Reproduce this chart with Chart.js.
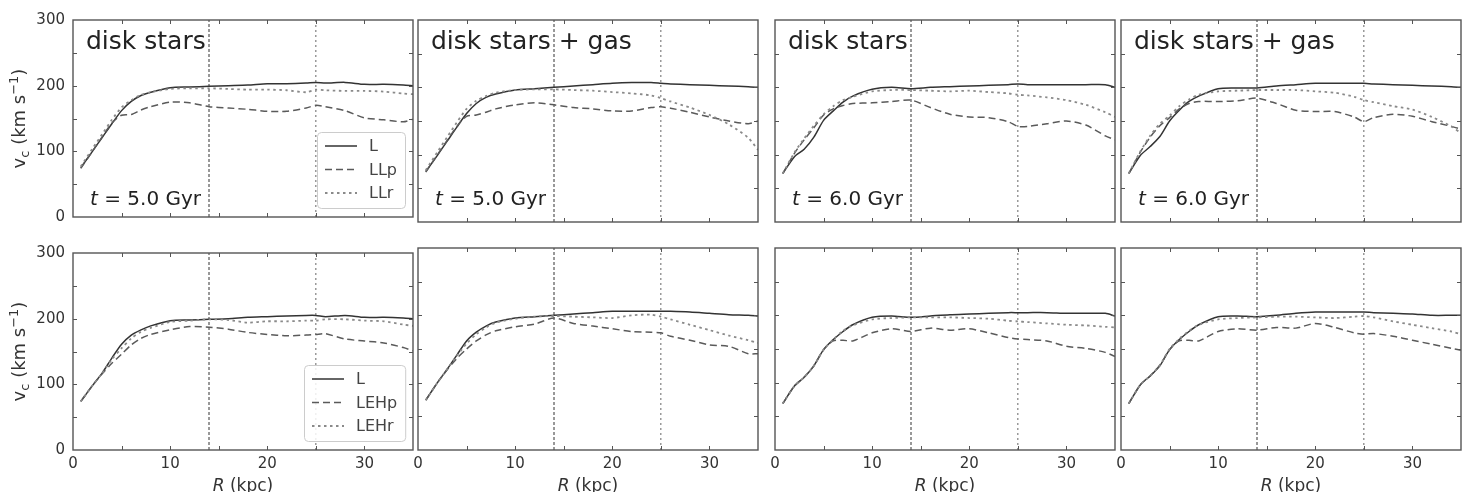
<!DOCTYPE html>
<html>
<head>
<meta charset="utf-8">
<title>Rotation curves</title>
<script src="https://cdn.jsdelivr.net/npm/chart.js@4.4.0/dist/chart.umd.min.js"></script>
<style>
  html, body { margin: 0; padding: 0; background: #fff; }
  body { width: 1469px; height: 492px; position: relative; overflow: hidden; }
</style>
</head>
<body>
<script>
// radius grid (kpc) shared by all curves
const R = [0.8, 2, 3, 4, 5, 6, 7, 8, 10, 12, 14, 16, 18, 20, 22, 24, 25, 26, 28, 30, 32, 34, 35];
const refR = [14, 25];
const xTickLabels = [0, 10, 20, 30];
const yTickLabels = [0, 100, 200, 300];

// top row: L / LLp / LLr
const A_L   = [75, 100, 121, 142, 162, 176, 185, 190, 197, 198, 199, 200, 201, 203, 203, 204, 205, 204, 205, 202, 202, 201, 200];
const A_LLp = [74, 100, 122, 143, 155, 156, 163, 168, 175, 174, 168, 166, 164, 161, 161, 166, 170, 168, 162, 151, 148, 145, 149];
const A_LLr = [77, 104, 126, 148, 167, 178, 186, 190, 195, 196, 196, 195, 194, 194, 193, 190, 194, 193, 192, 192, 191, 188, 187];

const B_L   = [75, 99, 120, 141, 161, 176, 185, 190, 196, 198, 200, 202, 204, 206, 207, 207, 206, 205, 204, 203, 202, 201, 200];
const B_LLp = [74, 100, 121, 142, 157, 159, 163, 168, 174, 177, 174, 170, 168, 165, 165, 170, 171, 169, 163, 156, 150, 146, 150];
const B_LLr = [77, 104, 126, 148, 168, 180, 187, 192, 196, 197, 197, 196, 195, 193, 191, 188, 184, 179, 170, 159, 145, 125, 107];

const C_L   = [72, 97, 108, 126, 151, 165, 178, 187, 197, 200, 198, 200, 201, 202, 203, 204, 205, 204, 204, 204, 204, 204, 200];
const C_LLp = [72, 102, 122, 140, 159, 168, 173, 176, 177, 179, 181, 170, 160, 156, 155, 149, 142, 142, 146, 150, 144, 128, 122];
const C_LLr = [72, 103, 124, 143, 160, 172, 181, 186, 194, 196, 196, 195, 194, 195, 193, 191, 189, 188, 185, 181, 174, 163, 156];

const D_L   = [72, 99, 112, 127, 150, 166, 179, 187, 198, 199, 199, 202, 204, 206, 206, 206, 206, 205, 204, 203, 202, 201, 200];
const D_LLp = [72, 104, 126, 143, 155, 168, 176, 179, 179, 180, 184, 176, 166, 164, 164, 156, 149, 155, 160, 157, 149, 142, 138];
const D_LLr = [72, 105, 128, 146, 158, 172, 182, 189, 194, 195, 196, 196, 196, 194, 192, 186, 181, 178, 172, 167, 156, 142, 132];

// bottom row: L / LEHp / LEHr
const E_L    = [74, 98, 117, 140, 161, 175, 183, 189, 197, 198, 199, 200, 202, 203, 204, 205, 205, 203, 205, 202, 202, 201, 200];
const E_LEHp = [74, 98, 116, 132, 146, 160, 170, 176, 183, 188, 187, 184, 179, 176, 174, 175, 176, 177, 169, 166, 163, 156, 151];
const E_LEHr = [74, 98, 117, 138, 155, 170, 180, 186, 195, 197, 199, 198, 194, 196, 196, 197, 197, 199, 199, 197, 196, 191, 189];

const F_L    = [74, 100, 120, 141, 162, 175, 184, 190, 196, 198, 200, 202, 204, 206, 206, 206, 206, 206, 205, 203, 201, 200, 199];
const F_LEHp = [74, 100, 119, 136, 150, 162, 171, 177, 183, 187, 196, 188, 184, 180, 176, 175, 174, 169, 163, 156, 154, 143, 143];
const F_LEHr = [74, 100, 120, 140, 158, 172, 182, 189, 195, 198, 199, 198, 197, 196, 200, 201, 198, 194, 186, 178, 170, 163, 159];

const G_L    = [69, 95, 108, 125, 149, 164, 176, 186, 197, 199, 197, 199, 201, 202, 203, 204, 204, 204, 204, 203, 203, 203, 199];
const G_LEHp = [69, 95, 108, 125, 149, 162, 163, 162, 174, 180, 176, 181, 178, 180, 174, 167, 165, 164, 162, 154, 151, 145, 139];
const G_LEHr = [69, 95, 108, 125, 149, 164, 177, 185, 194, 196, 197, 197, 197, 196, 195, 192, 191, 190, 188, 186, 185, 183, 182];

const H_L    = [69, 97, 110, 125, 149, 164, 176, 186, 198, 199, 198, 200, 203, 205, 205, 205, 205, 204, 203, 202, 200, 200, 200];
const H_LEHp = [69, 97, 110, 126, 149, 162, 163, 162, 176, 180, 178, 182, 181, 188, 182, 174, 172, 173, 169, 163, 157, 151, 148];
const H_LEHr = [69, 97, 110, 126, 150, 165, 177, 186, 194, 196, 197, 198, 198, 197, 196, 198, 199, 197, 191, 186, 181, 176, 172];

const colLeft = [73, 418, 775, 1121];
const rowTop = [20, 248];
const plotW = 340, plotH = 202;

const panels = [
  { row: 0, col: 0, title: 'disk stars',       time: '5.0', names: ['L', 'LLp', 'LLr'],   v: [A_L, A_LLp, A_LLr], legend: true },
  { row: 0, col: 1, title: 'disk stars + gas', time: '5.0', names: ['L', 'LLp', 'LLr'],   v: [B_L, B_LLp, B_LLr] },
  { row: 0, col: 2, title: 'disk stars',       time: '6.0', names: ['L', 'LLp', 'LLr'],   v: [C_L, C_LLp, C_LLr] },
  { row: 0, col: 3, title: 'disk stars + gas', time: '6.0', names: ['L', 'LLp', 'LLr'],   v: [D_L, D_LLp, D_LLr] },
  { row: 1, col: 0, names: ['L', 'LEHp', 'LEHr'], v: [E_L, E_LEHp, E_LEHr], legend: true },
  { row: 1, col: 1, names: ['L', 'LEHp', 'LEHr'], v: [F_L, F_LEHp, F_LEHr] },
  { row: 1, col: 2, names: ['L', 'LEHp', 'LEHr'], v: [G_L, G_LEHp, G_LEHr] },
  { row: 1, col: 3, names: ['L', 'LEHp', 'LEHr'], v: [H_L, H_LEHp, H_LEHr] }
];

const FONT = "'DejaVu Sans'";
const frameColor = '#555';
const styles = [
  { borderColor: '#333', borderWidth: 1.5, borderDash: [] },
  { borderColor: '#5a5a5a', borderWidth: 1.5, borderDash: [7, 4] },
  { borderColor: '#8a8a8a', borderWidth: 1.8, borderDash: [2.5, 3.5] }
];

Chart.defaults.font.family = FONT;
Chart.defaults.color = '#333';

function partsWidth(ctx, parts) {
  let w = 0;
  parts.forEach(p => { ctx.font = p[1]; w += ctx.measureText(p[0]).width; });
  return w;
}
// parts: [text, font, dy]
function richText(ctx, parts, x, y) {
  let cx = x;
  parts.forEach(p => { ctx.font = p[1]; ctx.fillText(p[0], cx, y + (p[2] || 0)); cx += ctx.measureText(p[0]).width; });
}

const decor = {
  id: 'decor',
  afterDatasetsDraw(chart, args, o) {
    const { ctx, chartArea: a, scales: { x, y } } = chart;
    ctx.save();

    // legend box, bottom right inside the axes
    if (o.legend) {
      const items = chart.data.datasets.filter(d => !d.isRef);
      ctx.font = '16px ' + FONT;
      const tw = Math.max(...items.map(d => ctx.measureText(d.label).width));
      const pad = 8, sample = 32, gap = 12, rowH = 23.5;
      const bw = pad + sample + gap + tw + pad, bh = 76;
      const bx = Math.round(a.right - 8 - bw), by = Math.round(a.bottom - 9 - bh);
      ctx.beginPath();
      ctx.roundRect(bx + 0.5, by + 0.5, bw, bh, 4);
      ctx.fillStyle = 'rgba(255,255,255,0.85)';
      ctx.fill();
      ctx.strokeStyle = '#ccc';
      ctx.lineWidth = 1;
      ctx.stroke();
      items.forEach((d, i) => {
        const cy = by + 14 + i * rowH;
        ctx.beginPath();
        ctx.setLineDash(d.borderDash);
        ctx.strokeStyle = d.borderColor;
        ctx.lineWidth = d.borderWidth;
        ctx.moveTo(bx + pad, cy);
        ctx.lineTo(bx + pad + sample, cy);
        ctx.stroke();
        ctx.setLineDash([]);
        ctx.fillStyle = '#444';
        ctx.textBaseline = 'middle';
        ctx.font = '16px ' + FONT;
        ctx.fillText(d.label, bx + pad + sample + gap, cy + 1);
      });
      ctx.textBaseline = 'alphabetic';
    }

    // inward ticks on all four sides
    ctx.strokeStyle = frameColor;
    ctx.lineWidth = 1;
    ctx.beginPath();
    x.ticks.forEach(t => {
      if (t.value <= x.min || t.value >= x.max) return;
      const px = Math.round(x.getPixelForValue(t.value)) + 0.5;
      ctx.moveTo(px, a.bottom); ctx.lineTo(px, a.bottom - 4);
      ctx.moveTo(px, a.top); ctx.lineTo(px, a.top + 4);
    });
    y.ticks.forEach(t => {
      if (t.value <= y.min || t.value >= y.max) return;
      const py = Math.round(y.getPixelForValue(t.value)) + 0.5;
      ctx.moveTo(a.left, py); ctx.lineTo(a.left + 4, py);
      ctx.moveTo(a.right, py); ctx.lineTo(a.right - 4, py);
    });
    ctx.stroke();

    // frame
    ctx.lineWidth = 1.4;
    ctx.strokeRect(a.left, a.top, a.width, a.height);

    ctx.fillStyle = '#222';
    if (o.title) {
      ctx.font = '25px ' + FONT;
      ctx.fillText(o.title, a.left + 13, a.top + 29);
    }
    if (o.time) {
      richText(ctx, [['t', 'italic 20px ' + FONT], [' = ' + o.time + ' Gyr', '20px ' + FONT]], a.left + 17, a.top + 185);
    }
    ctx.fillStyle = '#333';
    if (o.yTitle) {
      const parts = [['v', '18px ' + FONT], ['c', '13px ' + FONT, 4], [' (km s', '18px ' + FONT], ['\u22121', '13px ' + FONT, -7], [')', '18px ' + FONT]];
      ctx.save();
      ctx.translate(a.left - 48, (a.top + a.bottom) / 2);
      ctx.rotate(-Math.PI / 2);
      const w = partsWidth(ctx, parts);
      richText(ctx, parts, -w / 2, 0);
      ctx.restore();
    }
    if (o.xTitle) {
      const parts = [['R', 'italic 17px ' + FONT], [' (kpc)', '17px ' + FONT]];
      const w = partsWidth(ctx, parts);
      richText(ctx, parts, (a.left + a.right) / 2 - w / 2, a.bottom + 41);
    }
    ctx.restore();
  }
};

function pts(vals) {
  return R.map((r, i) => ({ x: r, y: vals[i] }));
}

panels.forEach(p => {
  const padL = p.col === 0 ? 73 : 12;
  const padR = 12;
  const padT = p.row === 0 ? 20 : 12;
  const padB = p.row === 1 ? 42 : 12;
  const w = plotW + padL + padR, h = plotH + padT + padB;
  const canvas = document.createElement('canvas');
  canvas.width = w;
  canvas.height = h;
  canvas.style.cssText = `position:absolute;left:${colLeft[p.col] - padL}px;top:${rowTop[p.row] - padT}px;width:${w}px;height:${h}px`;
  document.body.appendChild(canvas);

  const datasets = refR.map((r, i) => ({
    isRef: true,
    label: '',
    data: [{ x: r, y: 0 }, { x: r, y: 300 }],
    borderColor: i === 0 ? '#333' : '#666',
    borderWidth: 1,
    borderDash: i === 0 ? [3, 2] : [2, 3],
    pointRadius: 0,
    order: 5
  }));
  p.names.forEach((n, i) => {
    datasets.push(Object.assign({
      label: n,
      data: pts(p.v[i]),
      pointRadius: 0,
      tension: 0.25,
      fill: false,
      order: 3 - i
    }, styles[i]));
  });

  new Chart(canvas, {
    type: 'line',
    data: { datasets },
    options: {
      responsive: false,
      animation: false,
      devicePixelRatio: 1,
      layout: { padding: { left: 0, right: padR, top: padT, bottom: 0 } },
      plugins: {
        legend: { display: false },
        tooltip: { enabled: false },
        decor: {
          title: p.title, time: p.time, legend: !!p.legend,
          yTitle: p.col === 0, xTitle: p.row === 1
        }
      },
      scales: {
        x: {
          type: 'linear', min: 0, max: 35,
          grid: { display: false, drawTicks: false },
          border: { display: false },
          ticks: {
            display: p.row === 1, stepSize: 5, autoSkip: false, maxRotation: 0, padding: 5,
            font: { size: 15 }, color: '#333',
            callback: v => xTickLabels.includes(v) ? String(v) : ''
          },
          afterFit: s => { s.height = padB; }
        },
        y: {
          min: 0, max: 300,
          grid: { display: false, drawTicks: false },
          border: { display: false },
          ticks: {
            display: p.col === 0, stepSize: 50, autoSkip: false, padding: 8,
            font: { size: 15 }, color: '#333',
            callback: v => yTickLabels.includes(v) ? String(v) : ''
          },
          afterFit: s => { s.width = padL; }
        }
      }
    },
    plugins: [decor]
  });
});
</script>
</body>
</html>
